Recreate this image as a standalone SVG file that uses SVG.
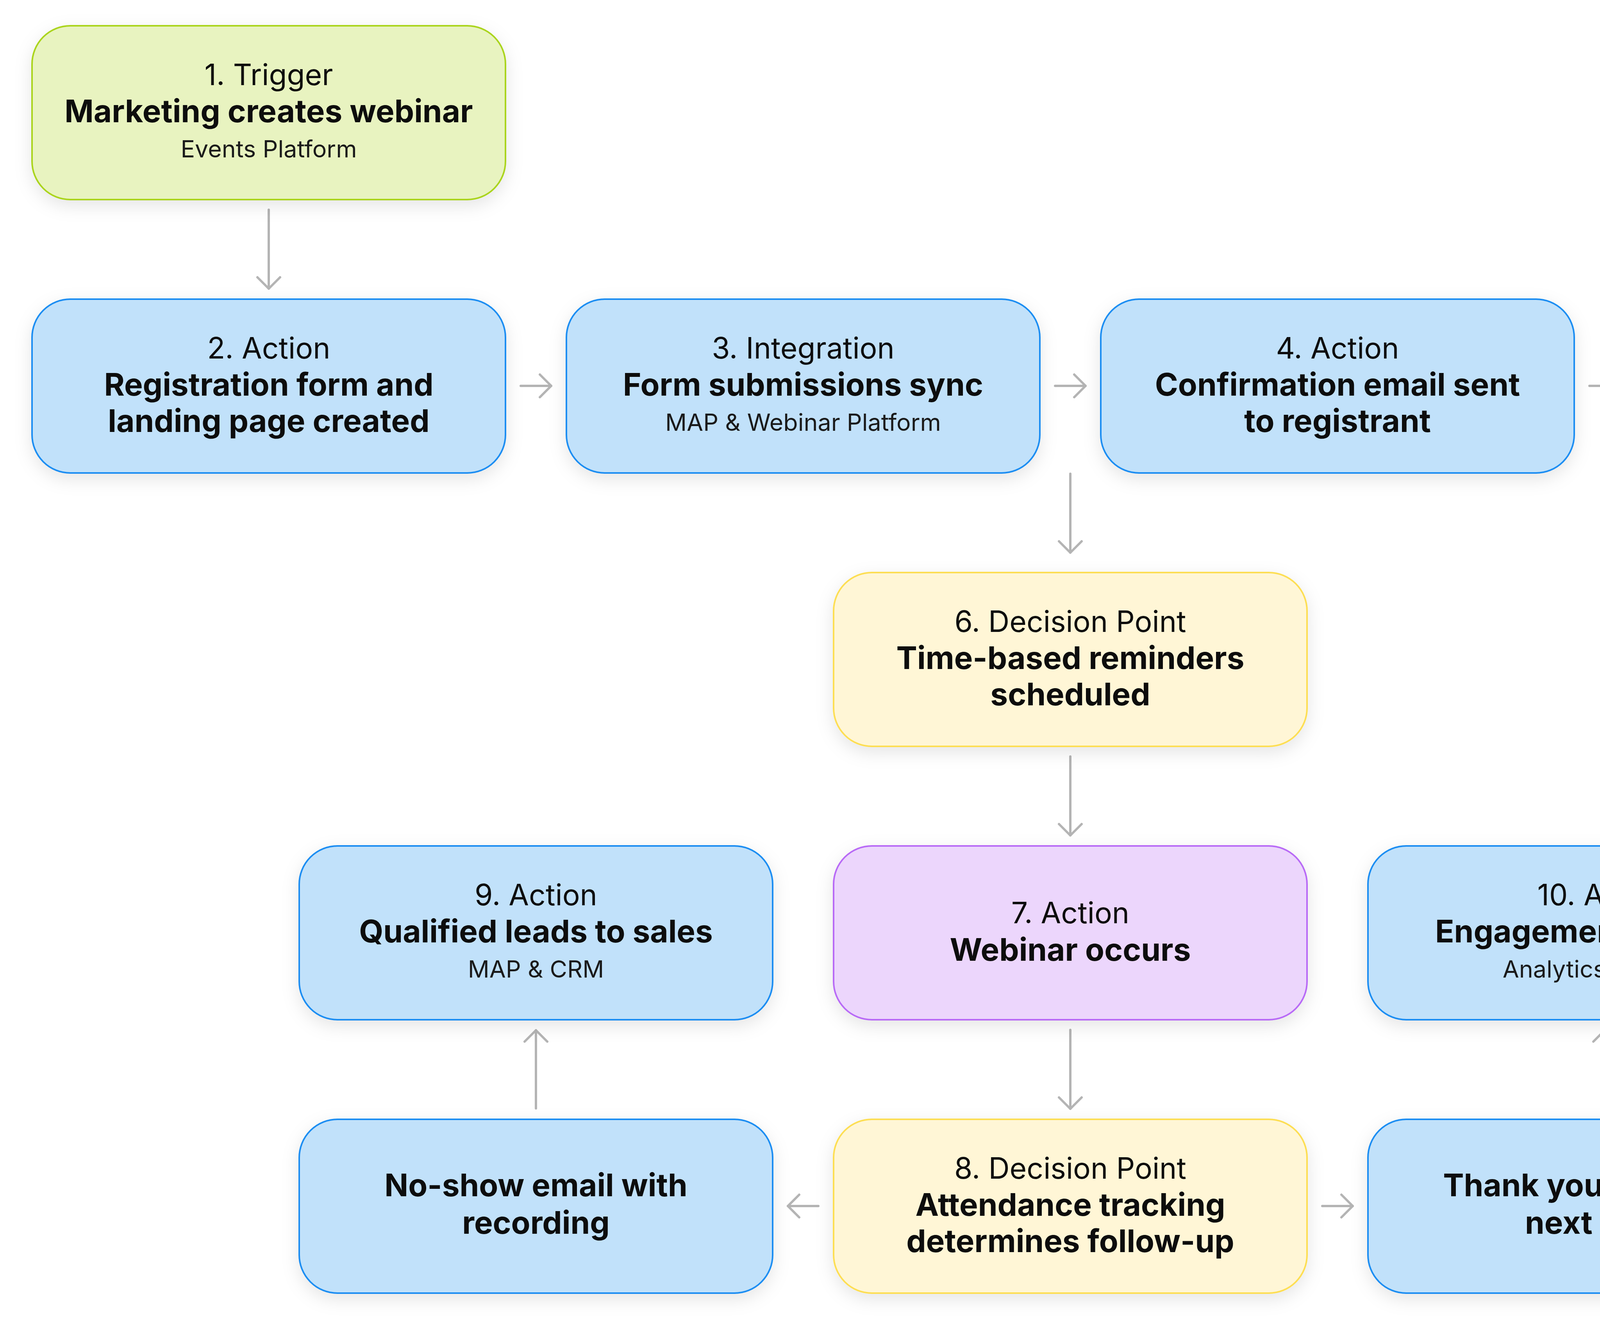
<svg xmlns="http://www.w3.org/2000/svg" width="5480" height="3408" viewBox="0 0 5480 3408">
<defs>
<filter id="sh" x="-10%" y="-20%" width="120%" height="150%">
<feDropShadow dx="0" dy="14" stdDeviation="22" flood-color="#000" flood-opacity="0.10"/>
</filter>
<style>
.box{stroke-width:4;filter:url(#sh)}
.blue{fill:#C1E1FA;stroke:#1A8DF2}
.green{fill:#E8F3C0;stroke:#AAD41E}
.yellow{fill:#FFF6D6;stroke:#FDDE52}
.purple{fill:#ECD6FC;stroke:#B86BF6}
text{font-family:"Inter","Liberation Sans",sans-serif;fill:#0D0D0D;text-anchor:middle}
.t{font-size:75px;font-weight:400}
.b{font-size:80px;font-weight:700}
.s{font-size:61px;font-weight:400;fill:#1A1A1A}
.c{fill:none;stroke:#B4B4B4;stroke-width:6;stroke-linecap:round;stroke-linejoin:round}
</style>
</defs>
<rect width="5480" height="3408" fill="#FFFFFF"/>
<g id="connectors">
<path class="c" d="M688,537 V739"/><path class="c" d="M659,710 L688,739 L717,710"/>
<path class="c" d="M1333,988 H1411"/><path class="c" d="M1382,959 L1411,988 L1382,1017"/>
<path class="c" d="M2701,988 H2779"/><path class="c" d="M2750,959 L2779,988 L2750,1017"/>
<path class="c" d="M4069,988 H4147"/><path class="c" d="M4118,959 L4147,988 L4118,1017"/>
<path class="c" d="M2740,1213 V1415"/><path class="c" d="M2711,1386 L2740,1415 L2769,1386"/>
<path class="c" d="M2740,1937 V2139"/><path class="c" d="M2711,2110 L2740,2139 L2769,2110"/>
<path class="c" d="M2740,2637 V2839"/><path class="c" d="M2711,2810 L2740,2839 L2769,2810"/>
<path class="c" d="M1372,2838 V2638"/><path class="c" d="M1343,2667 L1372,2638 L1401,2667"/>
<path class="c" d="M4108,2838 V2638"/><path class="c" d="M4079,2667 L4108,2638 L4137,2667"/>
<path class="c" d="M2095,3088 H2017"/><path class="c" d="M2046,3059 L2017,3088 L2046,3117"/>
<path class="c" d="M3385,3088 H3463"/><path class="c" d="M3434,3059 L3463,3088 L3434,3117"/>
</g>
<g id="n1">
<rect class="box green" x="82" y="66" width="1212" height="445" rx="98"/>
<text class="t" x="688" y="218">1. Trigger</text>
<text class="b" x="688" y="313">Marketing creates webinar</text>
<text class="s" x="688" y="403">Events Platform</text>
</g>
<g id="n2">
<rect class="box blue" x="82" y="766" width="1212" height="445" rx="98"/>
<text class="t" x="688" y="918">2. Action</text>
<text class="b" x="688" y="1013">Registration form and</text>
<text class="b" x="688" y="1106">landing page created</text>
</g>
<g id="n3">
<rect class="box blue" x="1450" y="766" width="1212" height="445" rx="98"/>
<text class="t" x="2056" y="918">3. Integration</text>
<text class="b" x="2056" y="1013">Form submissions sync</text>
<text class="s" x="2056" y="1103">MAP &amp; Webinar Platform</text>
</g>
<g id="n4">
<rect class="box blue" x="2818" y="766" width="1212" height="445" rx="98"/>
<text class="t" x="3424" y="918">4. Action</text>
<text class="b" x="3424" y="1013">Confirmation email sent</text>
<text class="b" x="3424" y="1106">to registrant</text>
</g>
<g id="n5">
<rect class="box blue" x="4186" y="766" width="1212" height="445" rx="98"/>
<text class="t" x="4792" y="964">5. Action</text>
<text class="b" x="4792" y="1060">Calendar invite delivered</text>
</g>
<g id="n6">
<rect class="box yellow" x="2134" y="1466" width="1212" height="445" rx="98"/>
<text class="t" x="2740" y="1618">6. Decision Point</text>
<text class="b" x="2740" y="1713">Time-based reminders</text>
<text class="b" x="2740" y="1806">scheduled</text>
</g>
<g id="n7">
<rect class="box purple" x="2134" y="2166" width="1212" height="445" rx="98"/>
<text class="t" x="2740" y="2364">7. Action</text>
<text class="b" x="2740" y="2460">Webinar occurs</text>
</g>
<g id="n9">
<rect class="box blue" x="766" y="2166" width="1212" height="445" rx="98"/>
<text class="t" x="1372" y="2318">9. Action</text>
<text class="b" x="1372" y="2413">Qualified leads to sales</text>
<text class="s" x="1372" y="2503">MAP &amp; CRM</text>
</g>
<g id="n10">
<rect class="box blue" x="3502" y="2166" width="1212" height="445" rx="98"/>
<text class="t" x="4108" y="2318">10. Action</text>
<text class="b" x="4108" y="2413">Engagement analyzed</text>
<text class="s" x="4108" y="2503">Analytics Platform</text>
</g>
<g id="n8">
<rect class="box yellow" x="2134" y="2866" width="1212" height="445" rx="98"/>
<text class="t" x="2740" y="3018">8. Decision Point</text>
<text class="b" x="2740" y="3113">Attendance tracking</text>
<text class="b" x="2740" y="3206">determines follow-up</text>
</g>
<g id="nNoShow">
<rect class="box blue" x="766" y="2866" width="1212" height="445" rx="98"/>
<text class="b" x="1372" y="3063">No-show email with</text>
<text class="b" x="1372" y="3159">recording</text>
</g>
<g id="nThankYou">
<rect class="box blue" x="3502" y="2866" width="1212" height="445" rx="98"/>
<text class="b" x="4108" y="3063">Thank you email with</text>
<text class="b" x="4108" y="3159">next steps</text>
</g>
</svg>
